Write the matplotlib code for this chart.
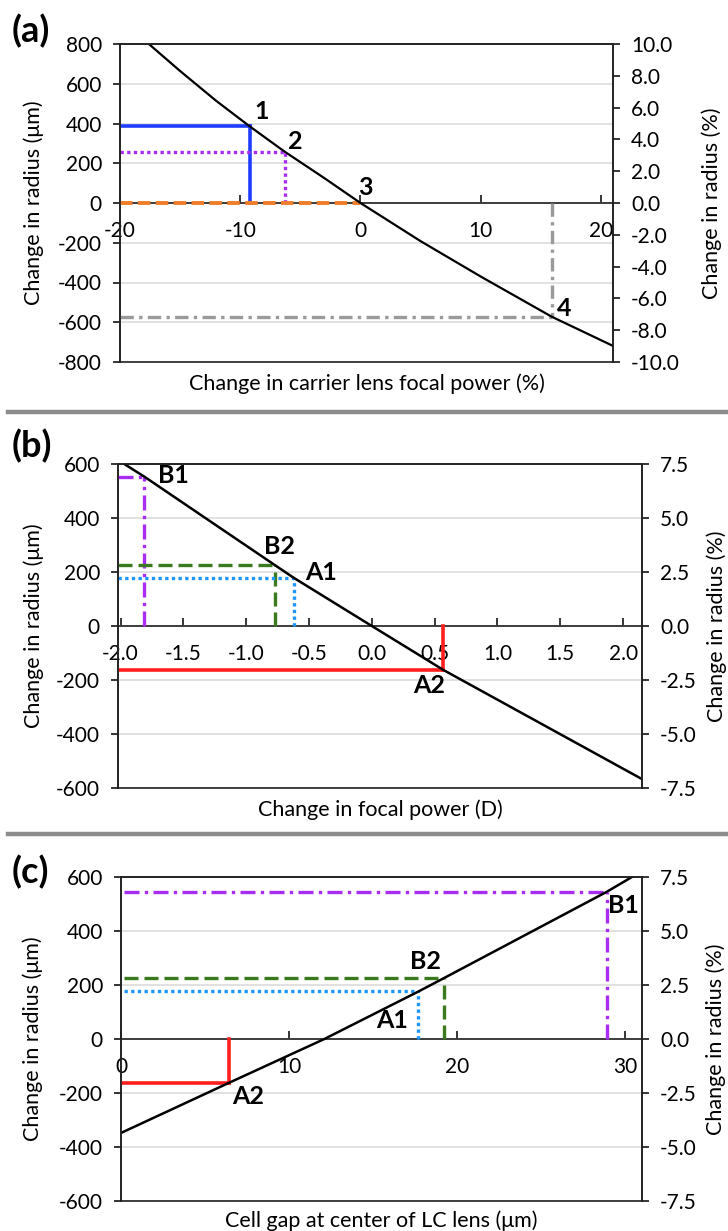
import numpy as np
import matplotlib
matplotlib.use("Agg")
import matplotlib.pyplot as plt

plt.rcParams['font.family'] = ['Lato', 'DejaVu Sans']
plt.rcParams['axes.unicode_minus'] = False

W, H = 728, 1231

# (a) curve: change in radius (um) vs change in carrier lens focal power (%)
a_x = [-17.6, -15, -12, -9.2, -6.3, -3, 0, 5, 10, 15.9, 21]
a_y = [800, 664, 514, 385, 258, 125, 0, -192, -370, -572, -719]
a_mark_x = [-9.2, -6.3, 0, 15.9]
a_mark_y = [385, 258, 0, -572]
a_names = ["1", "2", "3", "4"]

# (b) curve: change in radius (um) vs change in focal power (D)
b_x = [-1.97, -1.81, -0.77, -0.62, 0, 0.57, 2.15]
b_y = [600, 553, 225, 178, 0, -163, -567]
b_mark_x = [-1.81, -0.77, -0.62, 0.57]
b_mark_y = [553, 225, 178, -163]

# (c) curve: change in radius (um) vs cell gap at center of LC lens (um)
c_x = [0, 6.4, 12.1, 17.7, 19.2, 28.9, 30.4]
c_y = [-348, -163, 0, 176, 225, 545, 600]
c_mark_x = [28.9, 19.2, 17.7, 6.4]
c_mark_y = [545, 225, 176, -163]

PURPLE = "#a82cf2"
GREEN = "#3a7a1e"
LBLUE = "#1e96ff"
RED = "#ff1e1e"

DASHDOT = (0, (4.5, 1.6, 1, 1.6))
DASHED = (0, (4.2, 1.8))
DOTTED = (0, (1, 1))

TICK_FS = 15
LAB_FS = 15.5


def make_axes(fig, left, top, right, bottom):
    return fig.add_axes([left / W, 1 - bottom / H, (right - left) / W, (bottom - top) / H])


def style_axes(ax, xlim, xticks, xfmt, ylim, yticks, rticks, rfmt, xlabel, px):
    ax.set_xlim(*xlim)
    ax.set_ylim(*ylim)
    ax.set_xticks(xticks)
    ax.set_xticklabels([xfmt.format(v) for v in xticks])
    ax.set_yticks(yticks)
    ax.set_yticklabels([str(v) for v in yticks])
    ax.spines['bottom'].set_position(('data', 0))
    for s in ax.spines.values():
        s.set_linewidth(1.2)
        s.set_color("#222222")
    ax.tick_params(axis='x', direction='in', length=6, width=1.1, pad=13, labelsize=TICK_FS)
    ax.tick_params(axis='y', direction='out', length=5, width=1.1, pad=8, labelsize=TICK_FS)
    ax.yaxis.grid(True, color="#dcdcdc", lw=1.2)
    ax.set_axisbelow(True)

    ax2 = ax.twinx()
    ax2.set_ylim(ylim[0] / 80, ylim[1] / 80)
    ax2.set_yticks(rticks)
    ax2.set_yticklabels([rfmt.format(v) for v in rticks])
    ax2.tick_params(axis='y', direction='out', length=5, width=1.1, pad=8, labelsize=TICK_FS)
    for s in ax2.spines.values():
        s.set_linewidth(1.2)
        s.set_color("#222222")

    ax.set_xlabel(xlabel, fontsize=LAB_FS)
    ax.xaxis.set_label_coords(0.5, px["xl"])
    ax.set_ylabel("Change in radius (μm)", fontsize=LAB_FS)
    ax.yaxis.set_label_coords(px["yl"], 0.5)
    ax2.set_ylabel("Change in radius (%)", fontsize=LAB_FS)
    ax2.yaxis.set_label_coords(px["yr"], 0.5)
    return ax2


def guide(ax, x0, x, y, color, ls, lw=2.4):
    ax.plot([x0, x], [y, y], color=color, ls=ls, lw=lw, zorder=3)
    ax.plot([x, x], [0, y], color=color, ls=ls, lw=lw, zorder=3)


def label(ax, x, y, s, va="bottom"):
    ax.text(x, y, s, fontsize=18, fontweight='bold', ha='left', va=va, zorder=5)


def main():
    fig = plt.figure(figsize=(W / 100, H / 100), dpi=100)

    # ---- (a)
    ax = make_axes(fig, 120, 44, 613, 362)
    style_axes(ax, (-20, 21), [-20, -10, 0, 10, 20], "{:d}", (-800, 800),
               list(range(-800, 801, 200)), np.arange(-10, 10.1, 2), "{:.1f}",
               "Change in carrier lens focal power (%)",
               {"xl": -0.035, "yl": -0.155, "yr": 1.18})
    guide(ax, -20, a_mark_x[0], a_mark_y[0], "#1f3dff", '-', 2.6)
    guide(ax, -20, a_mark_x[1], a_mark_y[1], PURPLE, DOTTED)
    ax.plot([-20, a_mark_x[2]], [0, 0], color="#f07d2a", ls=(0, (3.2, 1.4)), lw=2.8, zorder=3)
    guide(ax, -20, a_mark_x[3], a_mark_y[3], "#9a9a9a", (0, (4, 1.6, 1, 1.6)))
    ax.plot(a_x, a_y, color="black", lw=1.6, zorder=4)
    label(ax, -8.8, 405, a_names[0])
    label(ax, -6.0, 252, a_names[1])
    label(ax, -0.2, 18, a_names[2])
    label(ax, 16.3, -590, a_names[3])

    # ---- (b)
    ax = make_axes(fig, 118, 464, 642, 788)
    style_axes(ax, (-2.02, 2.15), list(np.arange(-2.0, 2.01, 0.5)), "{:.1f}", (-600, 600),
               list(range(-600, 601, 200)), np.arange(-7.5, 7.6, 2.5), "{:.1f}",
               "Change in focal power (D)",
               {"xl": -0.035, "yl": -0.141, "yr": 1.122})
    x0 = -2.02
    guide(ax, x0, b_mark_x[0], b_mark_y[0], PURPLE, DASHDOT)
    guide(ax, x0, b_mark_x[1], b_mark_y[1], GREEN, DASHED)
    guide(ax, x0, b_mark_x[2], b_mark_y[2], LBLUE, DOTTED)
    guide(ax, x0, b_mark_x[3], b_mark_y[3], RED, '-', 2.6)
    ax.plot(b_x, b_y, color="black", lw=1.8, zorder=4)
    label(ax, -1.70, 515, "B1")
    label(ax, -0.86, 250, "B2")
    label(ax, -0.53, 155, "A1")
    label(ax, 0.33, -178, "A2", va="top")

    # ---- (c)
    ax = make_axes(fig, 121, 877, 642, 1201)
    style_axes(ax, (0, 31), [0, 10, 20, 30], "{:d}", (-600, 600),
               list(range(-600, 601, 200)), np.arange(-7.5, 7.6, 2.5), "{:.1f}",
               "Cell gap at center of LC lens (μm)",
               {"xl": -0.03, "yl": -0.15, "yr": 1.122})
    x0 = 0.2
    guide(ax, x0, c_mark_x[0], c_mark_y[0], PURPLE, DASHDOT)
    guide(ax, x0, c_mark_x[1], c_mark_y[1], GREEN, DASHED)
    guide(ax, x0, c_mark_x[2], c_mark_y[2], LBLUE, DOTTED)
    guide(ax, 0, c_mark_x[3], c_mark_y[3], RED, '-', 2.6)
    ax.plot(c_x, c_y, color="black", lw=1.8, zorder=4)
    label(ax, 29.0, 538, "B1", va="top")
    label(ax, 17.2, 244, "B2")
    label(ax, 15.2, 25, "A1")
    label(ax, 6.6, -172, "A2", va="top")

    # panel letters and separators
    for ytop, s in [(14, "(a)"), (429, "(b)"), (855, "(c)")]:
        fig.text(12 / W, 1 - ytop / H, s, fontsize=26, fontweight='bold', va='top')
    for ysep in [412, 834]:
        fig.add_artist(plt.Line2D([8 / W, 1], [1 - ysep / H] * 2, color="#8c8c8c", lw=3.2))

    fig.savefig("out.png", dpi=100)


if __name__ == "__main__":
    main()
